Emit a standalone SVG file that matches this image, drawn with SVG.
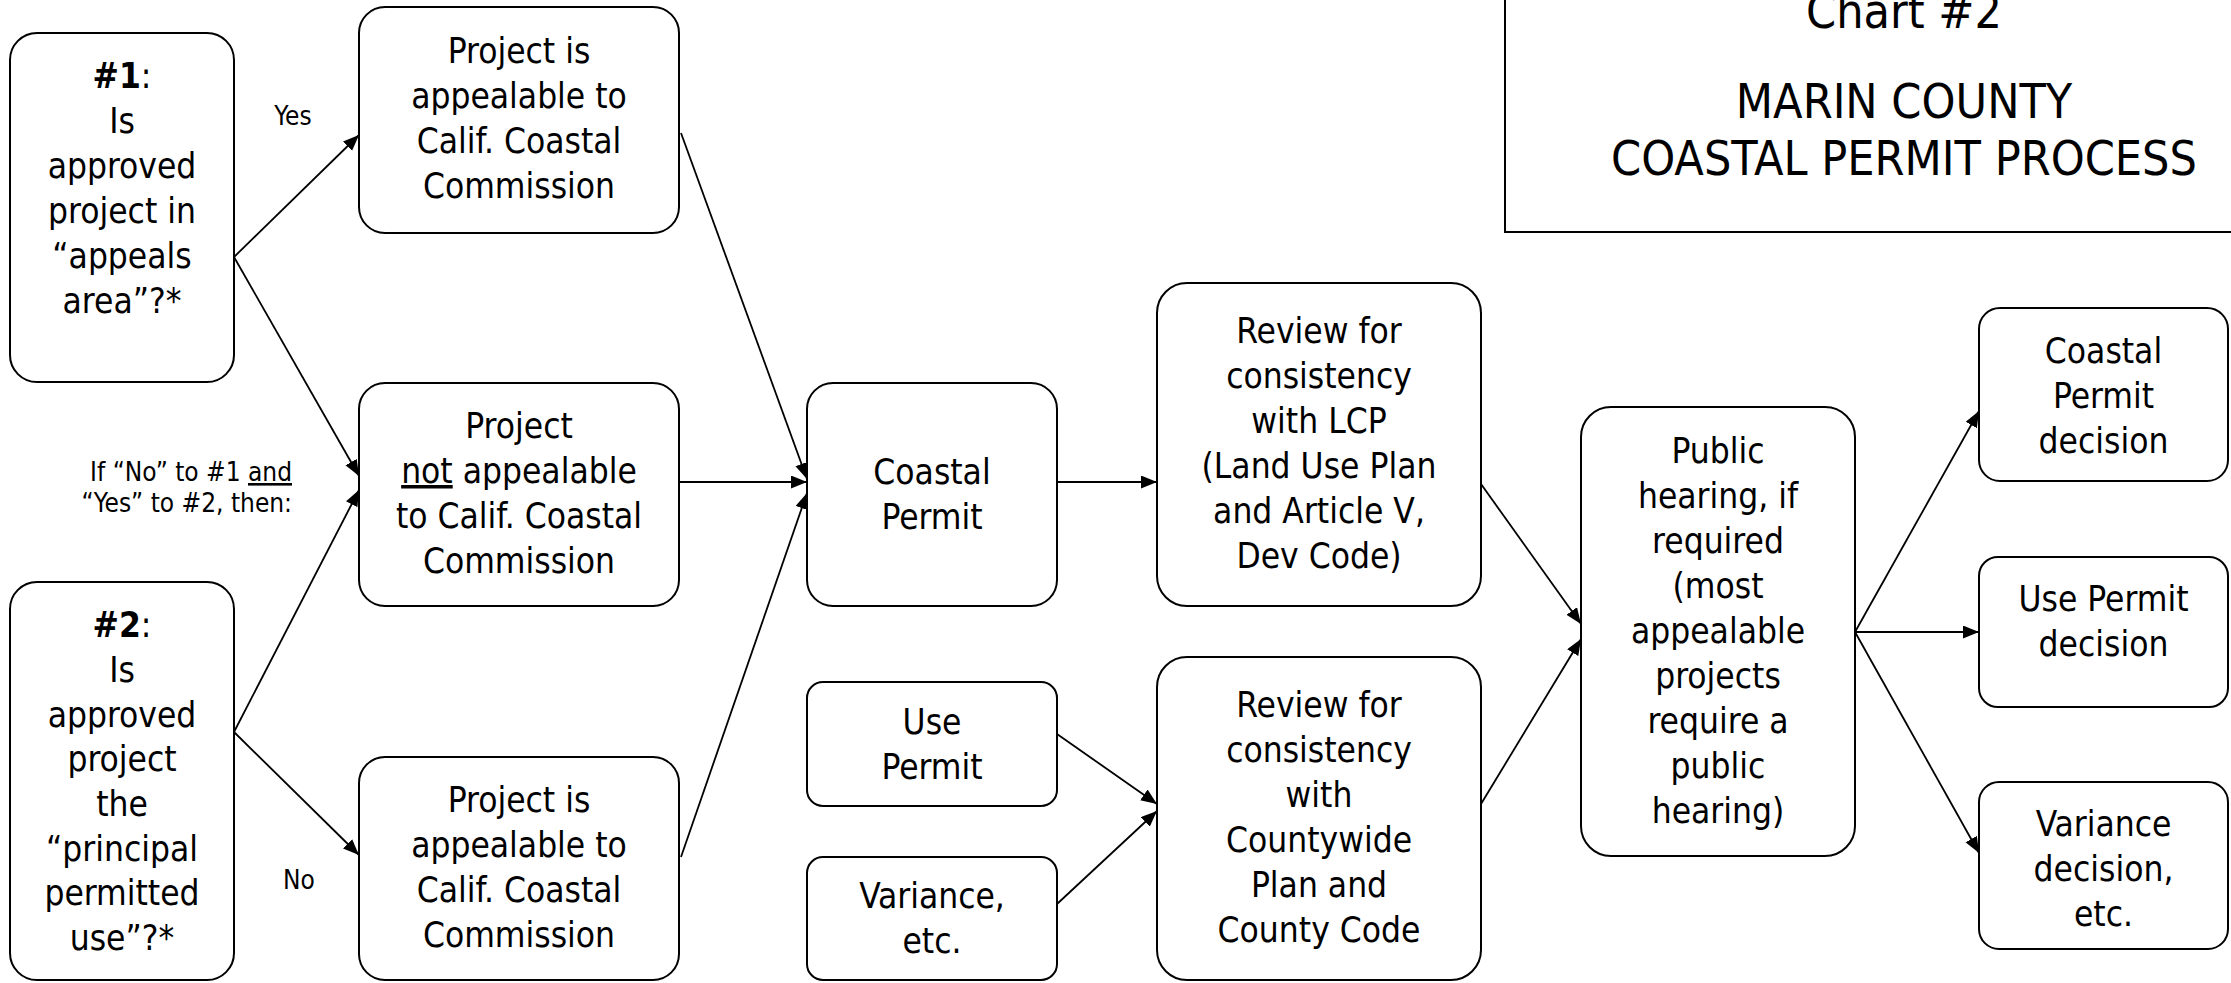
<svg xmlns="http://www.w3.org/2000/svg" width="2231" height="983" viewBox="0 0 2231 983">
<style>
  text { font-family: "DejaVu Sans Condensed", "DejaVu Sans", sans-serif; font-stretch: condensed; fill: #000; }
  .n rect { fill: #fff; stroke: #000; stroke-width: 2; }
  .t { font-size: 35px; text-anchor: middle; }
  .lbl { font-size: 26px; }
  .ttl { font-size: 48px; text-anchor: middle; }
  .c line { stroke: #000; stroke-width: 1.8; marker-end: url(#ah); }
  .u { text-decoration: underline; }
</style>
<defs>
  <marker id="ah" markerUnits="userSpaceOnUse" markerWidth="18" markerHeight="14" refX="16" refY="6.5" orient="auto">
    <path d="M0,0 L16,6.5 L0,13 z" fill="#000"/>
  </marker>
</defs>
<rect width="2231" height="983" fill="#fff"/>

<g id="title">
  <rect x="1505" y="-10" width="800" height="242" fill="#fff" stroke="#000" stroke-width="2"/>
  <text class="ttl" x="1904" y="28">Chart #2</text>
  <text class="ttl" x="1904" y="118">MARIN COUNTY</text>
  <text class="ttl" x="1904" y="175">COASTAL PERMIT PROCESS</text>
</g>

<g id="connectors" class="c">
  <line x1="234" y1="257" x2="359" y2="135"/>
  <line x1="234" y1="257" x2="359" y2="476"/>
  <line x1="234" y1="732" x2="359" y2="490"/>
  <line x1="234" y1="732" x2="359" y2="855"/>
  <line x1="681" y1="133" x2="807" y2="479"/>
  <line x1="679" y1="482" x2="807" y2="482"/>
  <line x1="681" y1="857" x2="807" y2="493"/>
  <line x1="1057" y1="482" x2="1157" y2="482"/>
  <line x1="1057" y1="734" x2="1157" y2="804"/>
  <line x1="1057" y1="904" x2="1157" y2="811"/>
  <line x1="1481" y1="484" x2="1581" y2="624"/>
  <line x1="1481" y1="804" x2="1581" y2="639"/>
  <line x1="1855" y1="632" x2="1979" y2="411"/>
  <line x1="1855" y1="632" x2="1979" y2="632"/>
  <line x1="1855" y1="632" x2="1979" y2="853"/>
</g>

<g id="labels">
  <text class="lbl" x="293" y="125" text-anchor="middle">Yes</text>
  <text class="lbl" x="299" y="889" text-anchor="middle">No</text>
  <text class="lbl" x="292" y="481" text-anchor="end">If “No” to #1 <tspan class="u">and</tspan></text>
  <text class="lbl" x="292" y="512" text-anchor="end">“Yes” to #2, then:</text>
</g>

<g id="q1" class="n">
  <rect x="10" y="33" width="224" height="349" rx="27"/>
  <text class="t" x="122" y="88"><tspan font-weight="bold">#1</tspan>:</text>
  <text class="t" x="122" y="133">Is</text>
  <text class="t" x="122" y="178">approved</text>
  <text class="t" x="122" y="223">project in</text>
  <text class="t" x="122" y="268">“appeals</text>
  <text class="t" x="122" y="313">area”?*</text>
</g>

<g id="q2" class="n">
  <rect x="10" y="582" width="224" height="398" rx="27"/>
  <text class="t" x="122" y="637"><tspan font-weight="bold">#2</tspan>:</text>
  <text class="t" x="122" y="682">Is</text>
  <text class="t" x="122" y="727">approved</text>
  <text class="t" x="122" y="771">project</text>
  <text class="t" x="122" y="816">the</text>
  <text class="t" x="122" y="861">“principal</text>
  <text class="t" x="122" y="905">permitted</text>
  <text class="t" x="122" y="950">use”?*</text>
</g>

<g id="appealable1" class="n">
  <rect x="359" y="7" width="320" height="226" rx="26"/>
  <text class="t" x="519" y="63">Project is</text>
  <text class="t" x="519" y="108">appealable to</text>
  <text class="t" x="519" y="153">Calif. Coastal</text>
  <text class="t" x="519" y="198">Commission</text>
</g>

<g id="notappealable" class="n">
  <rect x="359" y="383" width="320" height="223" rx="26"/>
  <text class="t" x="519" y="438">Project</text>
  <text class="t" x="519" y="483"><tspan class="u">not</tspan> appealable</text>
  <text class="t" x="519" y="528">to Calif. Coastal</text>
  <text class="t" x="519" y="573">Commission</text>
</g>

<g id="appealable2" class="n">
  <rect x="359" y="757" width="320" height="223" rx="26"/>
  <text class="t" x="519" y="812">Project is</text>
  <text class="t" x="519" y="857">appealable to</text>
  <text class="t" x="519" y="902">Calif. Coastal</text>
  <text class="t" x="519" y="947">Commission</text>
</g>

<g id="coastalpermit" class="n">
  <rect x="807" y="383" width="250" height="223" rx="26"/>
  <text class="t" x="932" y="484">Coastal</text>
  <text class="t" x="932" y="529">Permit</text>
</g>

<g id="usepermit" class="n">
  <rect x="807" y="682" width="250" height="124" rx="16"/>
  <text class="t" x="932" y="734">Use</text>
  <text class="t" x="932" y="779">Permit</text>
</g>

<g id="variance" class="n">
  <rect x="807" y="857" width="250" height="123" rx="16"/>
  <text class="t" x="932" y="908">Variance,</text>
  <text class="t" x="932" y="953">etc.</text>
</g>

<g id="reviewlcp" class="n">
  <rect x="1157" y="283" width="324" height="323" rx="30"/>
  <text class="t" x="1319" y="343">Review for</text>
  <text class="t" x="1319" y="388">consistency</text>
  <text class="t" x="1319" y="433">with LCP</text>
  <text class="t" x="1319" y="478">(Land Use Plan</text>
  <text class="t" x="1319" y="523">and Article V,</text>
  <text class="t" x="1319" y="568">Dev Code)</text>
</g>

<g id="reviewcounty" class="n">
  <rect x="1157" y="657" width="324" height="323" rx="30"/>
  <text class="t" x="1319" y="717">Review for</text>
  <text class="t" x="1319" y="762">consistency</text>
  <text class="t" x="1319" y="807">with</text>
  <text class="t" x="1319" y="852">Countywide</text>
  <text class="t" x="1319" y="897">Plan and</text>
  <text class="t" x="1319" y="942">County Code</text>
</g>

<g id="hearing" class="n">
  <rect x="1581" y="407" width="274" height="449" rx="30"/>
  <text class="t" x="1718" y="463">Public</text>
  <text class="t" x="1718" y="508">hearing, if</text>
  <text class="t" x="1718" y="553">required</text>
  <text class="t" x="1718" y="598">(most</text>
  <text class="t" x="1718" y="643">appealable</text>
  <text class="t" x="1718" y="688">projects</text>
  <text class="t" x="1718" y="733">require a</text>
  <text class="t" x="1718" y="778">public</text>
  <text class="t" x="1718" y="823">hearing)</text>
</g>

<g id="cpdecision" class="n">
  <rect x="1979" y="308" width="249" height="173" rx="21"/>
  <text class="t" x="2103.5" y="363">Coastal</text>
  <text class="t" x="2103.5" y="408">Permit</text>
  <text class="t" x="2103.5" y="453">decision</text>
</g>

<g id="updecision" class="n">
  <rect x="1979" y="557" width="249" height="150" rx="19"/>
  <text class="t" x="2103.5" y="611">Use Permit</text>
  <text class="t" x="2103.5" y="656">decision</text>
</g>

<g id="vardecision" class="n">
  <rect x="1979" y="782" width="249" height="167" rx="20"/>
  <text class="t" x="2103.5" y="836">Variance</text>
  <text class="t" x="2103.5" y="881">decision,</text>
  <text class="t" x="2103.5" y="926">etc.</text>
</g>
</svg>
